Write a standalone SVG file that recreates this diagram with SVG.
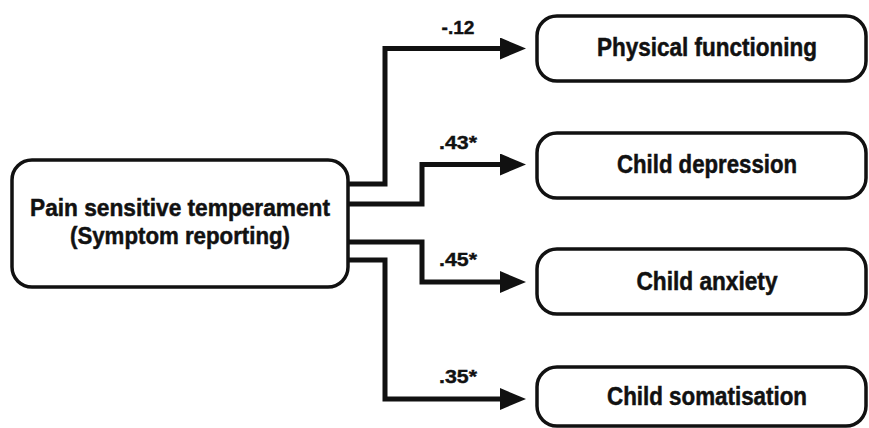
<svg xmlns="http://www.w3.org/2000/svg" width="869" height="428" viewBox="0 0 869 428">
<style>
.box{fill:#fff;stroke:#111;stroke-width:3.5}
.t{font-family:"Liberation Sans Narrow","Liberation Sans",Arial,sans-serif;font-stretch:condensed;font-weight:bold;font-size:25.5px;fill:#111;stroke:#111;stroke-width:0.5;text-anchor:middle}
.s{font-size:24px}
.l{font-family:"Liberation Sans Narrow","Liberation Sans",Arial,sans-serif;font-stretch:condensed;font-weight:bold;font-size:19px;fill:#111;stroke:#111;stroke-width:0.4;text-anchor:middle}
.c{fill:none;stroke:#111;stroke-width:5;stroke-linejoin:miter}
</style>
<defs>
<marker id="ah" markerUnits="userSpaceOnUse" markerWidth="26" markerHeight="22" refX="0" refY="11" orient="auto" viewBox="0 0 26 22">
<path d="M0,0 L26,11 L0,22 z" fill="#111"/>
</marker>
</defs>
<g id="connectors">
<path class="c" d="M348,184 H385 V48.5 H500" marker-end="url(#ah)"/>
<path class="c" d="M348,204 H422 V164.5 H500" marker-end="url(#ah)"/>
<path class="c" d="M348,242 H422 V282 H500" marker-end="url(#ah)"/>
<path class="c" d="M348,260 H385 V399 H500" marker-end="url(#ah)"/>
<text class="l" x="458" y="34" textLength="33" lengthAdjust="spacingAndGlyphs">-.12</text>
<text class="l" x="458" y="149" textLength="38" lengthAdjust="spacingAndGlyphs">.43*</text>
<text class="l" x="458" y="266" textLength="38" lengthAdjust="spacingAndGlyphs">.45*</text>
<text class="l" x="458" y="383" textLength="38" lengthAdjust="spacingAndGlyphs">.35*</text>
</g>
<g id="pain">
<rect class="box" x="12" y="160" width="336" height="127" rx="20"/>
<text class="t s" x="180" y="216" textLength="300" lengthAdjust="spacingAndGlyphs">Pain sensitive temperament</text>
<text class="t s" x="180" y="244" textLength="220" lengthAdjust="spacingAndGlyphs">(Symptom reporting)</text>
</g>
<g id="physical">
<rect class="box" x="537" y="16" width="329" height="65" rx="20"/>
<text class="t" x="707" y="55.5" textLength="220" lengthAdjust="spacingAndGlyphs">Physical functioning</text>
</g>
<g id="depression">
<rect class="box" x="537" y="133" width="329" height="65" rx="20"/>
<text class="t" x="707" y="173" textLength="180" lengthAdjust="spacingAndGlyphs">Child depression</text>
</g>
<g id="anxiety">
<rect class="box" x="537" y="249" width="329" height="65" rx="20"/>
<text class="t" x="707" y="290" textLength="141" lengthAdjust="spacingAndGlyphs">Child anxiety</text>
</g>
<g id="somatisation">
<rect class="box" x="537" y="367" width="329" height="59" rx="20"/>
<text class="t" x="707" y="404.5" textLength="200" lengthAdjust="spacingAndGlyphs">Child somatisation</text>
</g>
</svg>
